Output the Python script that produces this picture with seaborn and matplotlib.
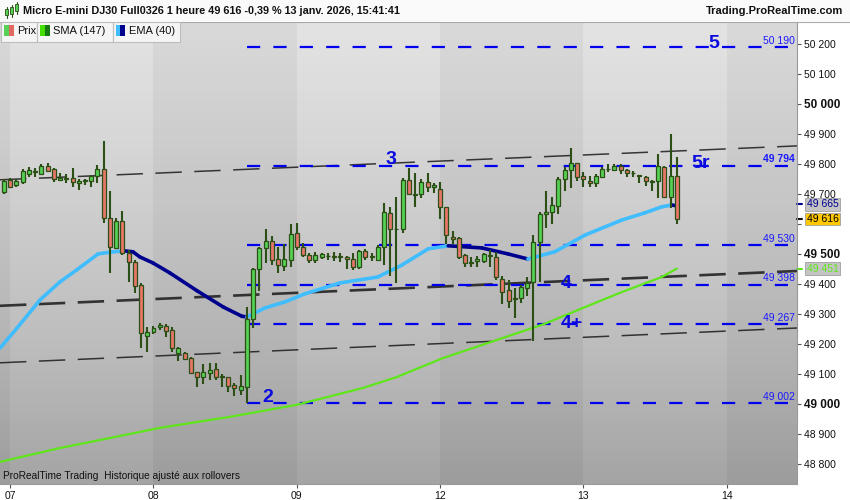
import numpy as np
import matplotlib
matplotlib.use("Agg")
import matplotlib.pyplot as plt
import matplotlib.transforms as mtransforms
from matplotlib.patches import Rectangle
import seaborn as sns

# hourly candles, Micro E-mini DJ30
opens = [49707, 49747, 49729, 49739, 49767, 49772, 49767, 49793, 49782, 49746,
         49750, 49754, 49736, 49744, 49744, 49760, 49782, 49619, 49519, 49610,
         49504, 49472, 49397, 49225, 49241, 49256, 49261, 49247, 49169, 49169,
         49152, 49106, 49091, 49104, 49116, 49093, 49089, 49063, 49047, 49056,
         49282, 49449, 49519, 49544, 49484, 49461, 49480, 49569, 49524, 49496,
         49480, 49489, 49492, 49492, 49489, 49491, 49482, 49456, 49508, 49490,
         49480, 49524, 49636, 49582, 49584, 49745, 49698, 49699, 49739, 49723,
         49716, 49656, 49556, 49552, 49496, 49472, 49477, 49476, 49493, 49489,
         49416, 49378, 49352, 49352, 49386, 49408, 49541, 49632, 49639, 49661,
         49749, 49780, 49802, 49760, 49744, 49736, 49758, 49782, 49780, 49793,
         49778, 49770, 49762, 49758, 49744, 49743, 49791, 49691, 49758]
highs = [49749, 49754, 49749, 49782, 49789, 49788, 49800, 49803, 49786, 49769,
         49766, 49786, 49749, 49750, 49763, 49797, 49877, 49710, 49619, 49643,
         49513, 49480, 49402, 49258, 49261, 49271, 49266, 49258, 49191, 49174,
         49158, 49108, 49133, 49136, 49138, 49100, 49091, 49071, 49097, 49322,
         49452, 49524, 49582, 49560, 49524, 49533, 49599, 49602, 49538, 49504,
         49508, 49504, 49504, 49508, 49504, 49493, 49504, 49513, 49516, 49504,
         49530, 49669, 49658, 49689, 49752, 49786, 49771, 49749, 49769, 49736,
         49740, 49658, 49577, 49556, 49499, 49489, 49493, 49504, 49513, 49508,
         49427, 49413, 49386, 49397, 49424, 49563, 49641, 49710, 49691, 49758,
         49791, 49852, 49804, 49774, 49761, 49767, 49789, 49799, 49799, 49799,
         49783, 49778, 49764, 49761, 49747, 49832, 49794, 49899, 49822]
lows = [49700, 49721, 49724, 49733, 49758, 49758, 49763, 49774, 49741, 49743,
        49738, 49724, 49713, 49730, 49722, 49736, 49602, 49438, 49516, 49496,
        49406, 49369, 49186, 49172, 49233, 49247, 49222, 49174, 49144, 49147,
        49100, 49058, 49067, 49080, 49080, 49058, 49041, 49028, 49030, 49002,
        49252, 49378, 49469, 49463, 49438, 49444, 49458, 49513, 49489, 49469,
        49469, 49482, 49480, 49477, 49474, 49450, 49447, 49449, 49480, 49478,
        49478, 49463, 49427, 49402, 49569, 49697, 49658, 49688, 49708, 49702,
        49617, 49533, 49532, 49483, 49458, 49458, 49456, 49471, 49458, 49413,
        49333, 49321, 49286, 49336, 49361, 49210, 49408, 49586, 49599, 49632,
        49711, 49719, 49744, 49724, 49724, 49722, 49752, 49774, 49778, 49766,
        49756, 49756, 49736, 49727, 49711, 49686, 49686, 49652, 49600]
closes = [49744, 49724, 49743, 49777, 49780, 49776, 49793, 49778, 49749, 49754,
          49753, 49739, 49742, 49746, 49758, 49782, 49619, 49522, 49610, 49504,
          49472, 49394, 49236, 49241, 49252, 49263, 49244, 49186, 49186, 49149,
          49102, 49091, 49106, 49113, 49091, 49090, 49061, 49052, 49058, 49282,
          49450, 49521, 49544, 49480, 49463, 49482, 49566, 49524, 49497, 49479,
          49497, 49499, 49494, 49491, 49492, 49483, 49456, 49510, 49489, 49491,
          49522, 49639, 49582, 49584, 49745, 49699, 49697, 49739, 49722, 49730,
          49656, 49563, 49549, 49491, 49469, 49471, 49483, 49499, 49494, 49422,
          49374, 49344, 49351, 49388, 49402, 49539, 49632, 49641, 49663, 49749,
          49778, 49802, 49756, 49750, 49736, 49760, 49783, 49783, 49794, 49780,
          49771, 49769, 49761, 49743, 49739, 49794, 49689, 49761, 49616]

day_labels = ["07", "08", "09", "12", "13", "14"]
day_starts = [1, 24, 47, 70, 93, 116]

# moving averages (candle index, price)
sma_idx = [-0.6, 9, 18.6, 25, 36.3, 47, 57.6, 63.1, 70.5, 79.1, 86.8, 93.3, 99.2, 105.6, 108]
sma_vals = [48807, 48853, 48893, 48920, 48957, 48997, 49053, 49090, 49153, 49213,
            49267, 49323, 49373, 49423, 49451]
ema_idx = [-0.6, 2.1, 5.8, 9, 11.7, 15.1, 17.5, 19.4, 20.7, 21.8, 23.9, 26.6, 31, 35.2,
           38.2, 39, 41.9, 45.1, 48.3, 53.9, 60, 63.9, 68.1, 71.3, 76.7, 80.9, 84.1,
           88.4, 93.3, 99.2, 102.9, 105.6, 107.2, 108]
ema_vals = [49187, 49253, 49347, 49407, 49447, 49500, 49507, 49510, 49507, 49490,
            49470, 49437, 49377, 49323, 49292, 49290, 49320, 49340, 49367, 49403,
            49423, 49463, 49517, 49527, 49520, 49500, 49483, 49507, 49563, 49613,
            49637, 49657, 49663, 49660]

# horizontal levels (drawn from the "2" low onwards)
levels = [50190, 49794, 49530, 49398, 49267, 49002]
level_start = 39

# channel lines: price at left edge / right edge
channel_left = [49747, 49327, 49137]
channel_right = [49860, 49443, 49253]
channel_width = [1.1, 1.9, 1.1]

wave_labels = ["2", "3", "4", "4+", "5r", "5"]
wave_idx = [42.3, 62.1, 90.2, 91.2, 111.9, 114.0]
wave_price = [49023, 49813, 49400, 49267, 49803, 50200]

price_ticks = list(range(48800, 50201, 100))
hidden_ticks = [49600]  # covered by the price box on the original

W, H = 850, 500
def fx(x): return x / W
def fy(y): return 1 - y / H

sns.set_theme(style="white")
plt.rcParams["font.family"] = ["Liberation Sans", "DejaVu Sans"]
plt.rcParams["lines.scale_dashes"] = False

fig = plt.figure(figsize=(8.5, 5), dpi=100, facecolor="white")
ax = fig.add_axes([0, fy(484), fx(797), (484 - 22) / H])
xmin, xmax = -0.64, 127.3
ymin, ymax = 48733, 50273
ax.set_xlim(xmin, xmax)
ax.set_ylim(ymin, ymax)

# background: vertical gradient + alternating day bands
grad = np.linspace(0, 1, 256).reshape(-1, 1)
ax.imshow(grad, extent=[xmin, xmax, ymin, ymax], aspect="auto", cmap="Greys",
          vmin=-0.75, vmax=3.1, origin="upper", zorder=0)
bounds = [xmin] + day_starts + [xmax]
for k in range(len(bounds) - 1):
    if k % 2 == 0:
        ax.axvspan(bounds[k], bounds[k + 1], color="black", alpha=0.045, lw=0, zorder=0.5)

# channel lines
for yl, yr, lw in zip(channel_left, channel_right, channel_width):
    ax.plot([xmin, xmax], [yl, yr], color="#1a1a1a", lw=lw, alpha=0.85,
            dashes=(19, 9), zorder=2)

# levels
for lv in levels:
    ax.plot([level_start, xmax], [lv, lv], color="#0000ee", lw=1.6,
            dashes=(9.5, 9.5), zorder=3)
    ax.text(xmax - 0.35, lv + 4, f"{lv:,}".replace(",", " "), ha="right", va="bottom",
            fontsize=7.5, color="#1a1aff", fontweight="bold" if lv == 49794 else "normal",
            zorder=6)

# SMA 147
sns.lineplot(x=sma_idx, y=sma_vals, ax=ax, color="#5ee61a", lw=1.6, zorder=4)

# EMA 40: light when rising, navy when falling
for i in range(len(ema_idx) - 1):
    col = "#40bdff" if ema_vals[i + 1] >= ema_vals[i] else "#00008f"
    ax.plot(ema_idx[i:i + 2], ema_vals[i:i + 2], color=col, lw=2.6,
            solid_capstyle="round", zorder=4)

# candles
o = np.array(opens); h = np.array(highs); l = np.array(lows); c = np.array(closes)
x = np.arange(len(o))
up = c >= o
ax.vlines(x, l, h, color="#2b4f14", lw=1.5, zorder=5)
body_lo = np.minimum(o, c)
body_h = np.maximum(np.abs(c - o), 2)
ax.bar(x, body_h, bottom=body_lo, width=0.64, color=np.where(up, "#55d155", "#e8766a"),
       edgecolor="#2b4f14", linewidth=0.9, zorder=6)

# wave labels
for t, xi, yi in zip(wave_labels, wave_idx, wave_price):
    ax.text(xi, yi, t, ha="center", va="center", fontsize=14, fontweight="bold",
            color="#0a0ae0", zorder=7)

ax.text(0.004, 0.018, "ProRealTime Trading  Historique ajusté aux rollovers",
        transform=ax.transAxes, fontsize=7.3, color="#111111", va="center", zorder=7)

# right price axis
ax.yaxis.tick_right()
tick_text = ["" if v in hidden_ticks else f"{v:,}".replace(",", " ") for v in price_ticks]
ax.set_yticks(price_ticks, tick_text)
ax.tick_params(axis="y", right=True, left=False, length=3, width=0.8, color="#555555",
               pad=2, labelsize=7.5, labelcolor="#111111")
for lab, v in zip(ax.get_yticklabels(), price_ticks):
    if v % 500 == 0:
        lab.set_fontweight("bold")
        lab.set_fontsize(8.5)

ax.set_xticks(day_starts, day_labels)
ax.tick_params(axis="x", bottom=True, length=3, width=0.8, color="#555555", pad=2,
               labelsize=7.5, labelcolor="#111111")
ax.grid(False)
for side in ["top", "left"]:
    ax.spines[side].set_visible(False)
ax.spines["right"].set_color("#9a9a9a")
ax.spines["bottom"].set_color("#9a9a9a")
ax.spines["right"].set_linewidth(0.8)
ax.spines["bottom"].set_linewidth(0.8)

# value boxes on the price axis
blend = mtransforms.blended_transform_factory(ax.transAxes, ax.transData)
markers = [(ema_vals[-1] + 5, "#00008f", "#c4c4c4", "#00008f"),
           (closes[-1], "#111111", "#ffc800", "#000000"),
           (sma_vals[-1], "#5ee61a", "#c4c4c4", "#5ee61a")]
for val, tick_col, bg, txt_col in markers:
    ax.plot([1.0, 1.006], [val, val], color=tick_col, lw=1.5, transform=blend, clip_on=False)
    ax.text(1.012, val, f"{val:,}".replace(",", " "), transform=blend, fontsize=7.5,
            color=txt_col, va="center", ha="left", clip_on=False, zorder=8,
            bbox=dict(boxstyle="square,pad=0.12", fc=bg, ec="#a0a0a0", lw=0.6))

# header bar
fig.patches.append(Rectangle((0, fy(21)), 1, 21 / H, transform=fig.transFigure,
                             fc="#fafafa", ec="none", zorder=1))
fig.add_artist(plt.Line2D([0, 1], [fy(21.5), fy(21.5)], color="#a8a8a8", lw=0.8))
fig.text(fx(23), fy(11), "Micro E-mini DJ30 Full0326 1 heure 49 616 -0,39 % 13 janv. 2026, 15:41:41",
         fontsize=7.85, fontweight="bold", color="#111111", va="center", ha="left")
fig.text(fx(843), fy(11), "Trading.ProRealTime.com", fontsize=8.0, fontweight="bold",
         color="#111111", va="center", ha="right")
# small candle icon
for (x0, y0, hh, col) in [(5, 9, 6, "#55d155"), (10, 7, 7, "#55d155"), (15, 4, 7, "#55d155")]:
    fig.add_artist(plt.Line2D([fx(x0 + 1.5)] * 2, [fy(y0 + hh + 3), fy(y0 - 2)],
                              color="#2b4f14", lw=0.8))
    fig.patches.append(Rectangle((fx(x0), fy(y0 + hh)), 3 / W, hh / H, transform=fig.transFigure,
                                 fc=col, ec="#2b4f14", lw=0.6, zorder=2))

# legend bar
legend_items = [("Prix", 1, 37, "#55d155", "#e06a62"),
                ("SMA (147)", 37, 113, "#44e000", "#157a10"),
                ("EMA (40)", 113, 180, "#40bdff", "#00008f")]
for name, x0, x1, c1, c2 in legend_items:
    fig.patches.append(Rectangle((fx(x0), fy(42)), (x1 - x0) / W, 20 / H, transform=fig.transFigure,
                                 fc="#f5f5f5", ec="#bdbdbd", lw=0.8, zorder=2))
    fig.patches.append(Rectangle((fx(x0 + 2.5), fy(35.5)), 5 / W, 10 / H, transform=fig.transFigure,
                                 fc=c1, ec="none", zorder=3))
    fig.patches.append(Rectangle((fx(x0 + 7.5), fy(35.5)), 5 / W, 10 / H, transform=fig.transFigure,
                                 fc=c2, ec="none", zorder=3))
    fig.text(fx(x0 + 16), fy(31), name, fontsize=8, color="#111111", va="center", ha="left", zorder=4)

fig.savefig("out.png", dpi=100, facecolor="white")
